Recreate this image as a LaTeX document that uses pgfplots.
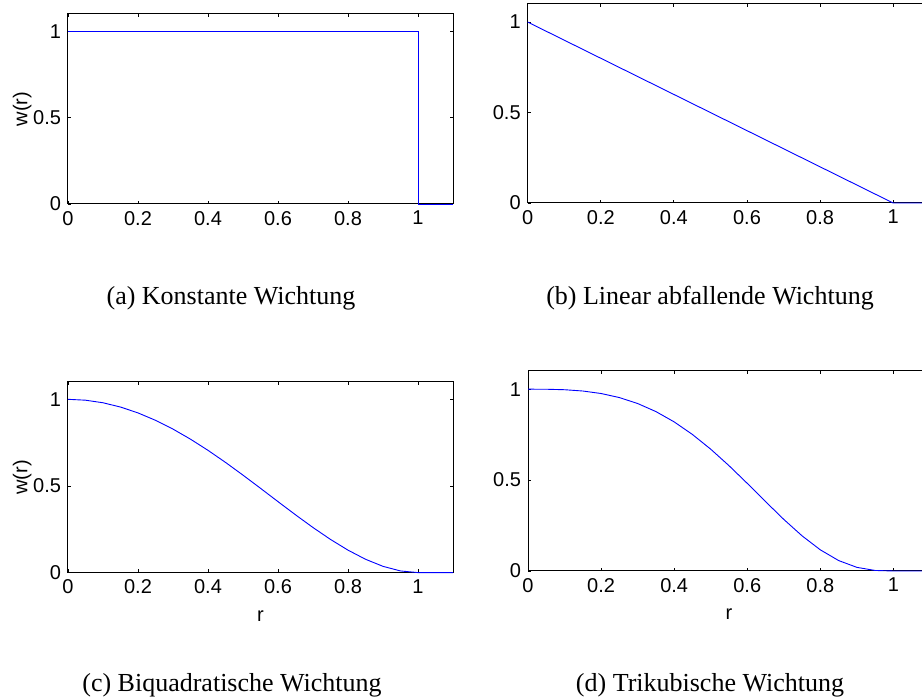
\documentclass[border=0pt]{standalone}
\usepackage{fontspec}
\setmainfont{Liberation Serif}
\setsansfont{Liberation Sans}
\usepackage{pgfplots}
\pgfplotsset{compat=1.18}
\pgfplotsset{
  wplot/.style={
    scale only axis,
    anchor=north west,
    xmin=0, xmax=1.1, ymin=0, ymax=1.1,
    xtick={0,0.2,0.4,0.6,0.8,1},
    ytick={0,0.5,1},
    tick align=inside,
    major tick length=1.6pt,
    axis line style={line width=0.5pt},
    tick style={black, line width=0.4pt},
    /pgf/number format/assume math mode=true,
    ticklabel style={font=\sffamily\fontsize{10}{12}\selectfont},
    label style={font=\sffamily\fontsize{10}{12}\selectfont},
    ylabel shift=-6pt,
    xlabel shift=1.5pt,
    no markers,
    clip=false,
    every axis plot/.append style={blue, line width=0.45pt},
  },
}
\tikzset{capt/.style={anchor=base, font=\fontsize{13}{15}\selectfont}}

\begin{document}
\begin{tikzpicture}
\path[use as bounding box] (0pt,0pt) rectangle (461pt,-349.5pt);
\clip (0pt,0pt) rectangle (461pt,-349.5pt);

% (a) constant
\begin{axis}[wplot, at={(34pt,-7pt)}, width=192.5pt, height=95pt, ylabel={w(r)}]
\addplot coordinates {(0,1) (1,1) (1,0) (1.1,0)};
\end{axis}

% (b) linear
\begin{axis}[wplot, at={(263.85pt,-2pt)}, width=201pt, height=99.5pt]
\addplot coordinates {(0,1) (1,0) (1.1,0)};
\end{axis}

% (c) biquadratic
\begin{axis}[wplot, at={(34pt,-191pt)}, width=192.5pt, height=95.3pt, ylabel={w(r)}, xlabel={r}]
\addplot coordinates {
(0,1) (0.05,0.99501) (0.1,0.9801) (0.15,0.95551) (0.2,0.9216)
(0.25,0.87891) (0.3,0.8281) (0.35,0.77001) (0.4,0.7056) (0.45,0.63601)
(0.5,0.5625) (0.55,0.48651) (0.6,0.4096) (0.65,0.33351) (0.7,0.2601)
(0.75,0.19141) (0.8,0.1296) (0.85,0.07701) (0.9,0.0361) (0.95,0.00951)
(1,0) (1.1,0)};
\end{axis}

% (d) tricube
\begin{axis}[wplot, at={(264pt,-185.5pt)}, width=201pt, height=100pt, xlabel={r}]
\addplot coordinates {
(0,1) (0.05,0.99963) (0.1,0.99700) (0.15,0.98991) (0.2,0.97619)
(0.25,0.95385) (0.3,0.92117) (0.35,0.87681) (0.4,0.82003) (0.45,0.75078)
(0.5,0.66992) (0.55,0.57931) (0.6,0.48189) (0.65,0.38167) (0.7,0.28359)
(0.75,0.19323) (0.8,0.11621) (0.85,0.05746) (0.9,0.01990) (0.95,0.00290)
(1,0) (1.1,0)};
\end{axis}

\node[capt] at (115.5pt,-152.5pt) {(a) Konstante Wichtung};
\node[capt] at (355pt,-152.5pt) {(b) Linear abfallende Wichtung};
\node[capt] at (116pt,-346pt) {(c) Biquadratische Wichtung};
\node[capt] at (355pt,-346pt) {(d) Trikubische Wichtung};
\end{tikzpicture}
\end{document}
